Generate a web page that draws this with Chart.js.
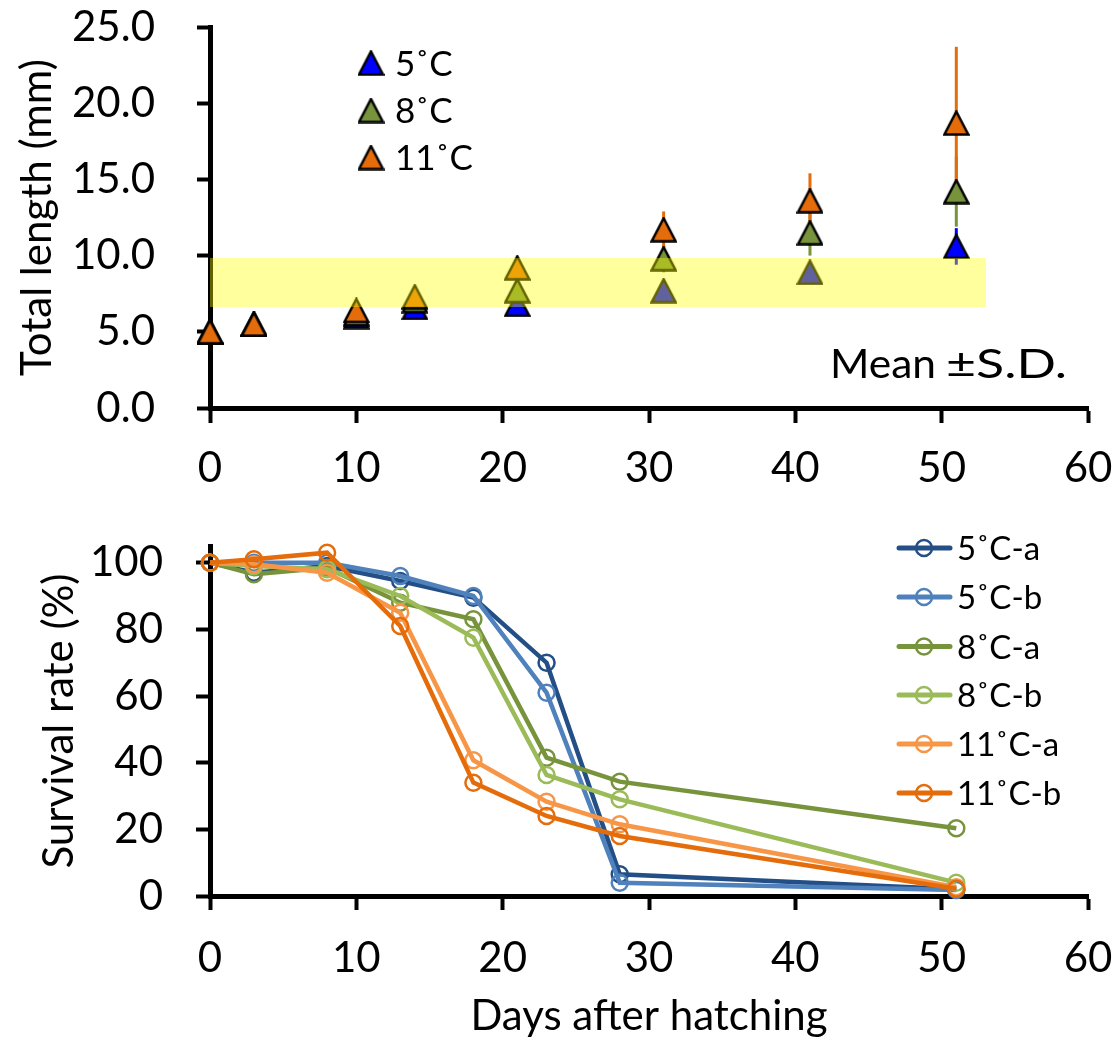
<!DOCTYPE html>
<html><head><meta charset="utf-8">
<script src="https://cdn.jsdelivr.net/npm/chart.js@4/dist/chart.umd.min.js"></script>
<style>
html,body{margin:0;padding:0;background:#fff;}
#top{position:absolute;left:0;top:0;width:1115px;height:500px;}
#bot{position:absolute;left:0;top:500px;width:1115px;height:543px;}
</style></head><body>
<div id="top"><canvas id="c1"></canvas></div>
<div id="bot"><canvas id="c2"></canvas></div>
<script>
// ---------- Top chart data (total length, mm) ----------
const lenDays = [0, 3, 10, 14, 21, 31, 41, 51];
const len5  = [5.0, 5.5, 6.0, 6.6, 6.8, 7.7, 8.9, 10.6];
const len8  = [5.0, 5.5, 6.2, 7.05, 7.7, 9.8, 11.5, 14.2];
const len11 = [5.0, 5.5, 6.4, 7.3, 9.2, 11.7, 13.6, 18.7];
const sd5  = [0.2, 0.2, 0.3, 0.3, 0.4, 0.5, 0.6, 1.2];
const sd8  = [0.2, 0.2, 0.3, 0.4, 0.6, 0.9, 1.5, 2.3];
const sd11 = [0.2, 0.2, 0.3, 0.4, 0.6, 1.2, 1.8, 5.0];
const lenLabels = ['5˚C', '8˚C', '11˚C'];
const lenYTicks = [0, 5, 10, 15, 20, 25];
const dayTicks = [0, 10, 20, 30, 40, 50, 60];
const band = {x0: 0, x1: 53, y0: 6.6, y1: 9.85};

// ---------- Bottom chart data (survival rate, %) ----------
const survDays = [0, 3, 8, 13, 18, 23, 28, 51];
const s5a  = [100, 97, 99, 94.5, 89.5, 70, 6.5, 2];
const s5b  = [100, 100, 100, 96, 90, 61, 4, 1.8];
const s8a  = [100, 96.5, 98.5, 88, 83, 41.5, 34.3, 20.3];
const s8b  = [100, 99, 98, 90, 77.5, 36.3, 29, 4];
const s11a = [100, 99.5, 97, 85, 40.7, 28.3, 21.5, 2.6];
const s11b = [100, 101, 103, 81, 34, 24, 18, 2.2];
const survLabels = ['5˚C-a', '5˚C-b', '8˚C-a', '8˚C-b', '11˚C-a', '11˚C-b'];
const survYTicks = [0, 20, 40, 60, 80, 100];

const FONT = 'Lato';
const triColors = ['#0000FF', '#77933C', '#E46C0A'];
const lineColors = ['#234F86', '#4F81BD', '#77933C', '#9BBB59', '#F79646', '#E46C0A'];

function makeTri(color) {
  const c = document.createElement('canvas');
  c.width = 27; c.height = 26;
  const g = c.getContext('2d');
  g.beginPath();
  g.moveTo(13.5, 1.5);
  g.lineTo(25.5, 24.5);
  g.lineTo(1.5, 24.5);
  g.closePath();
  g.fillStyle = color; g.fill();
  g.lineWidth = 2.5; g.lineJoin = 'miter'; g.strokeStyle = '#000'; g.stroke();
  return c;
}
const triImgs = triColors.map(makeTri);

function tickFix(arr) { return s => { s.ticks = arr.map(v => ({value: v})); }; }
function fitSize(prop, val) {
  return s => { s[prop] = val; s.paddingTop = 0; s.paddingBottom = 0; s.paddingLeft = 0; s.paddingRight = 0; };
}
function fitText(ctx, text, x0, x1, baseline) {
  const w = ctx.measureText(text).width;
  ctx.save();
  ctx.translate(x0, baseline);
  ctx.scale((x1 - x0) / w, 1);
  ctx.textAlign = 'left';
  ctx.fillText(text, 0, 0);
  ctx.restore();
}

const axisCommon = (tl) => ({
  grid: {display: true, drawOnChartArea: false, drawTicks: true, tickLength: tl, tickColor: '#000', tickWidth: 4},
  border: {display: true, color: '#000', width: 5},
});

const topPlugin = {
  id: 'topDecor',
  beforeDatasetsDraw(chart) {
    const {ctx, scales: {x, y}} = chart;
    ctx.save();
    ctx.lineWidth = 3;
    const sets = [[len5, sd5, triColors[0]], [len8, sd8, triColors[1]], [len11, sd11, triColors[2]]];
    sets.forEach(([m, s, col]) => {
      ctx.strokeStyle = col;
      lenDays.forEach((d, i) => {
        const px = x.getPixelForValue(d);
        ctx.beginPath();
        ctx.moveTo(px, y.getPixelForValue(m[i] - s[i]));
        ctx.lineTo(px, y.getPixelForValue(m[i] + s[i]));
        ctx.stroke();
      });
    });
    ctx.restore();
  },
  afterDatasetsDraw(chart) {
    const {ctx, scales: {x, y}} = chart;
    ctx.save();
    ctx.fillStyle = 'rgba(255,255,0,0.38)';
    const l = Math.round(x.getPixelForValue(band.x0)), r = Math.round(x.getPixelForValue(band.x1));
    const t = Math.round(y.getPixelForValue(band.y1)), b = Math.round(y.getPixelForValue(band.y0));
    ctx.fillRect(l, t, r - l, b - t);
    ctx.restore();
  },
  afterDraw(chart) {
    const {ctx} = chart;
    ctx.save();
    const rows = [63, 110.5, 157.5];
    ctx.font = '35px ' + FONT;
    ctx.fillStyle = '#000';
    ctx.textBaseline = 'alphabetic';
    lenLabels.forEach((lab, i) => {
      ctx.drawImage(triImgs[i], 371 - 13.5, rows[i] - 13);
      ctx.fillText(lab, 395, rows[i] + 12.5);
    });
    ctx.font = '41px ' + FONT;
    fitText(ctx, 'Mean', 830, 936, 378);
    fitText(ctx, '\u00B1S.D.', 946, 1067, 378);
    ctx.restore();
  }
};

new Chart(document.getElementById('c1'), {
  type: 'scatter',
  data: {
    datasets: [
      {label: lenLabels[0], data: lenDays.map((d, i) => ({x: d, y: len5[i]})), pointStyle: triImgs[0], pointRadius: 13, order: 2, clip: false},
      {label: lenLabels[1], data: lenDays.map((d, i) => ({x: d, y: len8[i]})), pointStyle: triImgs[1], pointRadius: 13, order: 1, clip: false},
      {label: lenLabels[2], data: lenDays.map((d, i) => ({x: d, y: len11[i]})), pointStyle: triImgs[2], pointRadius: 13, order: 0, clip: false},
    ]
  },
  options: {
    responsive: true, maintainAspectRatio: false, animation: false, events: [],
    layout: {padding: {left: 0, right: 27, top: 27, bottom: 0}},
    plugins: {legend: {display: false}, tooltip: {enabled: false}},
    scales: {
      x: Object.assign(axisCommon(15), {
        type: 'linear', min: 0, max: 60,
        afterBuildTicks: tickFix(dayTicks),
        afterFit: fitSize('height', 92),
        ticks: {font: {family: FONT, size: 42}, color: '#000', padding: 20, maxRotation: 0},
      }),
      y: Object.assign(axisCommon(13), {
        type: 'linear', min: 0, max: 25,
        afterBuildTicks: tickFix(lenYTicks),
        afterFit: fitSize('width', 210),
        ticks: {font: {family: FONT, size: 42}, color: '#000', padding: 42, callback: v => v.toFixed(1)},
        title: {display: true, text: 'Total length (mm)', font: {family: FONT, size: 42}, color: '#000', padding: {top: 12, bottom: 0}},
      }),
    }
  },
  plugins: [topPlugin]
});

const botPlugin = {
  id: 'botLegend',
  afterDraw(chart) {
    const {ctx} = chart;
    ctx.save();
    const rows = [548, 597, 646.5, 695, 744, 793].map(v => v - 500);
    ctx.font = '33px ' + FONT;
    ctx.fillStyle = '#000';
    survLabels.forEach((lab, i) => {
      const col = lineColors[i];
      ctx.strokeStyle = col;
      ctx.lineWidth = 5;
      ctx.lineCap = 'round';
      ctx.beginPath(); ctx.moveTo(899, rows[i]); ctx.lineTo(950, rows[i]); ctx.stroke();
      ctx.lineWidth = 2.5;
      ctx.beginPath(); ctx.arc(924, rows[i], 8, 0, Math.PI * 2); ctx.stroke();
      ctx.fillText(lab, 957, rows[i] + 12);
    });
    ctx.restore();
  }
};

const survSeries = [s5a, s5b, s8a, s8b, s11a, s11b];
new Chart(document.getElementById('c2'), {
  type: 'scatter',
  data: {
    datasets: survSeries.map((arr, i) => ({
      label: survLabels[i],
      data: survDays.map((d, j) => ({x: d, y: arr[j]})),
      showLine: true, tension: 0,
      borderColor: lineColors[i], borderWidth: 4.5,
      pointStyle: 'circle', pointRadius: 8, pointBorderWidth: 2.5,
      pointBorderColor: lineColors[i], pointBackgroundColor: 'rgba(0,0,0,0)',
      order: 5 - i, clip: false,
    }))
  },
  options: {
    responsive: true, maintainAspectRatio: false, animation: false, events: [],
    layout: {padding: {left: 0, right: 27, top: 46, bottom: 0}},
    plugins: {legend: {display: false}, tooltip: {enabled: false}},
    scales: {
      x: Object.assign(axisCommon(14), {
        type: 'linear', min: 0, max: 60,
        afterBuildTicks: tickFix(dayTicks),
        afterFit: fitSize('height', 147),
        ticks: {font: {family: FONT, size: 42}, color: '#000', padding: 23, maxRotation: 0},
        title: {display: true, text: 'Days after hatching', font: {family: FONT, size: 42}, color: '#000', padding: {top: 0, bottom: 1}},
      }),
      y: Object.assign(axisCommon(14), {
        type: 'linear', min: 0, max: 105,
        afterBuildTicks: tickFix(survYTicks),
        afterFit: fitSize('width', 210),
        ticks: {font: {family: FONT, size: 42}, color: '#000', padding: 33},
        title: {display: true, text: 'Survival rate (%)', font: {family: FONT, size: 42}, color: '#000', padding: {top: 34, bottom: 0}},
      }),
    }
  },
  plugins: [botPlugin]
});
</script>
</body></html>
